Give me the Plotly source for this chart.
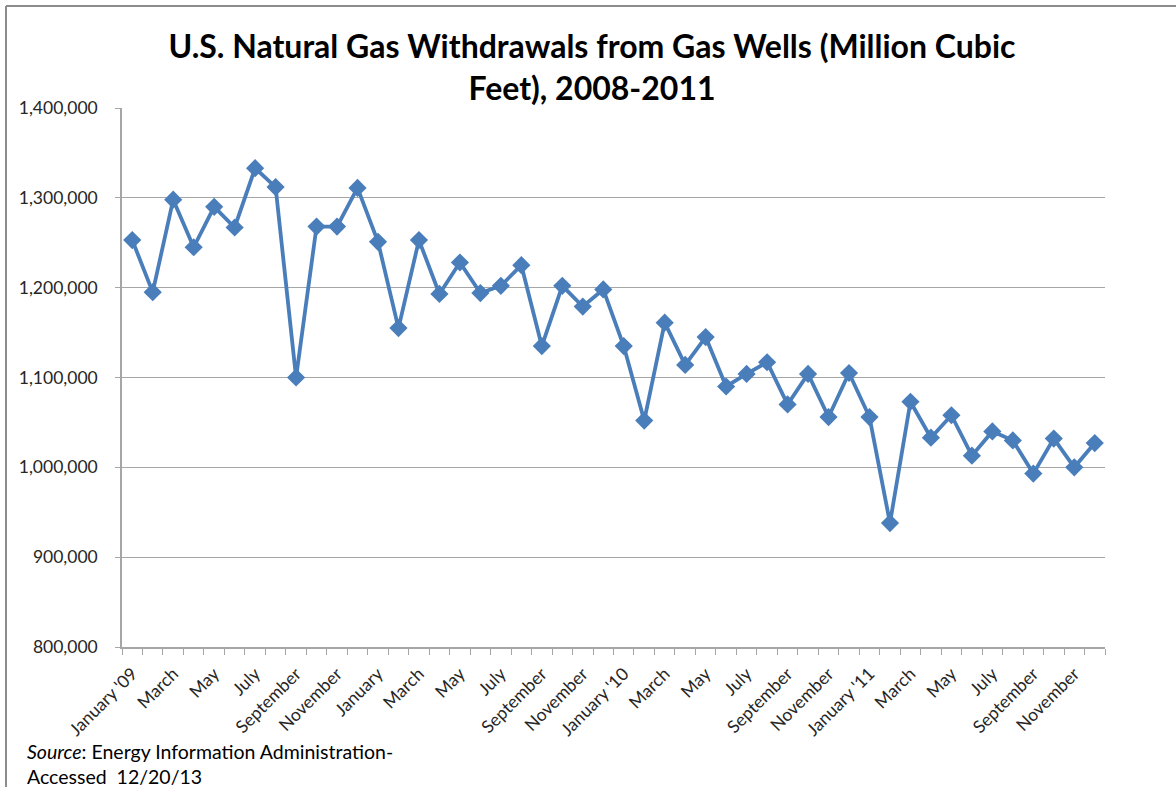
import plotly.graph_objects as go

# Monthly withdrawals from gas wells, million cubic feet (48 months)
withdrawals = [
    1253000, 1195000, 1298000, 1245000, 1290000, 1267000, 1333000, 1312000,
    1100000, 1268000, 1268000, 1311000, 1251000, 1155000, 1253000, 1193000,
    1228000, 1194000, 1202000, 1225000, 1135000, 1202000, 1179000, 1198000,
    1135000, 1052000, 1161000, 1114000, 1145000, 1090000, 1104000, 1117000,
    1070000, 1104000, 1056000, 1105000, 1056000, 938000, 1073000, 1033000,
    1058000, 1013000, 1040000, 1030000, 993000, 1032000, 1000000, 1027000,
]

# Axis labels shown on every other month
tick_labels = [
    "January '09", "March", "May", "July", "September", "November",
    "January", "March", "May", "July", "September", "November",
    "January '10", "March", "May", "July", "September", "November",
    "January '11", "March", "May", "July", "September", "November",
]

month_index = list(range(len(withdrawals)))
tick_positions = month_index[::2]

W, H = 1176, 787
L, R, T, B = 122, 71, 108, 140
FONT = "Lato, 'Open Sans', sans-serif"
TEXT = "#262626"
GRID = "#A6A6A6"

fig = go.Figure(
    go.Scatter(
        x=month_index,
        y=withdrawals,
        mode="lines+markers",
        line=dict(color="#4A7EBB", width=3.8),
        marker=dict(symbol="diamond", size=14, color="#4A7EBB"),
        showlegend=False,
    )
)

fig.update_layout(
    width=W,
    height=H,
    margin=dict(l=L, r=R, t=T, b=B),
    paper_bgcolor="white",
    plot_bgcolor="white",
    font=dict(family=FONT, color=TEXT, size=17),
    title=dict(
        text="U.S. Natural Gas Withdrawals from Gas Wells (Million Cubic<br>Feet), 2008-2011",
        x=592 / W,
        xanchor="center",
        y=1 - 58 / H,
        yanchor="middle",
        yref="container",
        font=dict(family=FONT, size=32, color="#000000", weight="bold"),
    ),
    xaxis=dict(
        range=[-0.5, len(withdrawals) - 0.5],
        tickmode="array",
        tickvals=tick_positions,
        ticktext=tick_labels,
        tickangle=-45,
        ticks="",
        ticklabelstandoff=8,
        tickfont=dict(size=17.5, color=TEXT),
        showgrid=False,
        showline=True,
        linecolor=GRID,
        linewidth=1.5,
        zeroline=False,
        minor=dict(
            tickmode="linear",
            tick0=-0.5,
            dtick=1,
            ticks="outside",
            ticklen=6,
            tickcolor=GRID,
            tickwidth=1,
            showgrid=False,
        ),
    ),
    yaxis=dict(
        range=[800000, 1400000],
        tickmode="linear",
        tick0=800000,
        dtick=100000,
        tickformat=",d",
        ticks="outside",
        ticklen=5,
        tickcolor=GRID,
        ticklabelstandoff=14,
        tickfont=dict(size=17.5, color=TEXT),
        showgrid=True,
        gridcolor=GRID,
        gridwidth=1,
        showline=True,
        linecolor=GRID,
        linewidth=1.5,
        zeroline=False,
    ),
)

pw, ph = W - L - R, H - T - B


def px_x(px):
    return (px - L) / pw


def px_y(py):
    return 1 - (py - T) / ph


# Chart frame (top and left edges)
fig.add_shape(type="line", xref="paper", yref="paper",
              x0=px_x(6), x1=px_x(W + 5), y0=px_y(6), y1=px_y(6),
              line=dict(color="#8C8C8C", width=2))
fig.add_shape(type="line", xref="paper", yref="paper",
              x0=px_x(6), x1=px_x(6), y0=px_y(6), y1=px_y(H + 5),
              line=dict(color="#8C8C8C", width=2))

fig.add_annotation(
    xref="paper", yref="paper",
    x=px_x(25), y=px_y(738),
    xanchor="left", yanchor="top",
    align="left",
    showarrow=False,
    text="<i>Source</i>: Energy Information Administration-<br>Accessed  12/20/13",
    font=dict(family=FONT, size=19.5, color="#000000"),
)

fig.write_html("out.html")
